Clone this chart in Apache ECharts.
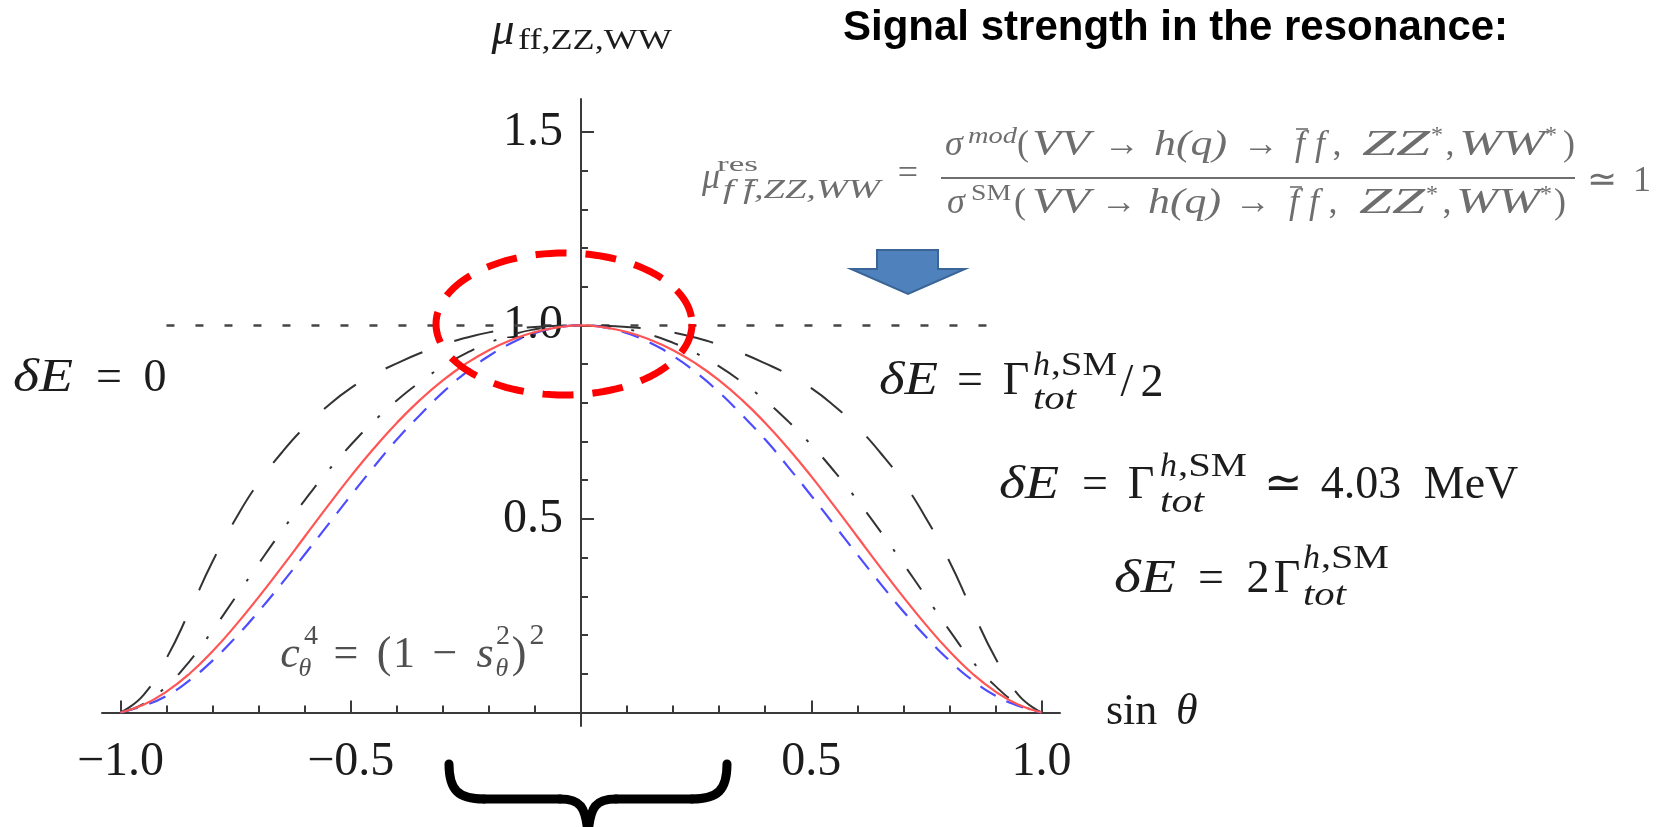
<!DOCTYPE html>
<html>
<head>
<meta charset="utf-8">
<script src="https://cdn.jsdelivr.net/npm/echarts@6/dist/echarts.min.js"></script>
<style>
  html, body { margin: 0; padding: 0; background: #ffffff; }
  #chart { width: 1656px; height: 827px; }
</style>
</head>
<body>
<div id="chart"></div>
<script>
// sin(theta) sample points
const sinTheta = [
  -1.00, -0.95, -0.90, -0.85, -0.80, -0.75, -0.70, -0.65, -0.60, -0.55,
  -0.50, -0.45, -0.40, -0.35, -0.30, -0.25, -0.20, -0.15, -0.10, -0.05,
   0.00,
   0.05,  0.10,  0.15,  0.20,  0.25,  0.30,  0.35,  0.40,  0.45,  0.50,
   0.55,  0.60,  0.65,  0.70,  0.75,  0.80,  0.85,  0.90,  0.95,  1.00
];
// red solid: c^4 = (1 - s^2)^2
const muCos4 = [
  0.000, 0.020, 0.054, 0.100, 0.158, 0.225, 0.298, 0.375, 0.454, 0.533,
  0.610, 0.682, 0.748, 0.807, 0.858, 0.901, 0.936, 0.963, 0.983, 0.995,
  1.000,
  0.995, 0.983, 0.963, 0.936, 0.901, 0.858, 0.807, 0.748, 0.682, 0.610,
  0.533, 0.454, 0.375, 0.298, 0.225, 0.158, 0.100, 0.054, 0.020, 0.000
];
// blue dashed
const muBlue = [
  0.000, 0.017, 0.043, 0.083, 0.134, 0.194, 0.261, 0.333, 0.408, 0.484,
  0.560, 0.634, 0.705, 0.768, 0.827, 0.878, 0.921, 0.955, 0.980, 0.995,
  1.000,
  0.995, 0.980, 0.955, 0.921, 0.878, 0.827, 0.768, 0.705, 0.634, 0.560,
  0.484, 0.408, 0.333, 0.261, 0.194, 0.134, 0.083, 0.043, 0.017, 0.000
];
// black dash-dot
const muDashDot = [
  0.000, 0.022, 0.068, 0.132, 0.212, 0.298, 0.384, 0.468, 0.548, 0.623,
  0.691, 0.752, 0.806, 0.853, 0.894, 0.928, 0.955, 0.976, 0.990, 0.998,
  1.000,
  0.998, 0.990, 0.976, 0.955, 0.928, 0.894, 0.853, 0.806, 0.752, 0.691,
  0.623, 0.548, 0.468, 0.384, 0.298, 0.212, 0.132, 0.068, 0.022, 0.000
];
// black long dash
const muLongDash = [
  0.000, 0.045, 0.140, 0.262, 0.390, 0.500, 0.594, 0.671, 0.737, 0.792,
  0.838, 0.873, 0.902, 0.928, 0.950, 0.968, 0.982, 0.991, 0.996, 0.999,
  1.000,
  0.999, 0.996, 0.991, 0.982, 0.968, 0.950, 0.928, 0.902, 0.873, 0.838,
  0.792, 0.737, 0.671, 0.594, 0.500, 0.390, 0.262, 0.140, 0.045, 0.000
];
// dotted reference level mu = 1
const refLevel = 1;
const refSpan = [-0.9, 0.89];

// ticks and labels
const xTickMinor = [-0.9, -0.8, -0.7, -0.6, -0.4, -0.3, -0.2, -0.1, 0.1, 0.2, 0.3, 0.4, 0.6, 0.7, 0.8, 0.9];
const xTickMajor = [-1, -0.5, 0.5, 1];
const xTickLabels = [-1, -0.5, 0.5, 1];
const yTickMinor = [0.1, 0.2, 0.3, 0.4, 0.6, 0.7, 0.8, 0.9, 1.1, 1.2, 1.3, 1.4];
const yTickMajor = [0.5, 1, 1.5];
const yTickLabels = [0.5, 1, 1.5];

const SERIF = "'Liberation Serif', 'Times New Roman', serif";
const SANS = "'Liberation Sans', Arial, sans-serif";
const AXIS = '#3a3a3a';
const INK = '#1c1c1c';
const FORMULA = '#6e6e6e';
const NOTE = '#505050';

const meter = document.createElement('canvas').getContext('2d');

// one piece of typeset text; x is the centre (or the left edge when left/w is set), y the middle
function tok(text, x, y, size, o) {
  o = o || {};
  const style = {
    text: text,
    fill: o.color || INK,
    fontSize: size,
    fontFamily: o.family || SERIF,
    fontStyle: o.it ? 'italic' : 'normal',
    fontWeight: o.bold ? 'bold' : 'normal',
    textAlign: (o.left || o.w) ? 'left' : 'center',
    textVerticalAlign: 'middle'
  };
  const el = { type: 'text', x: x, y: y, z: o.z || 60, silent: true, style: style };
  if (o.w) {
    meter.font = style.fontStyle + ' ' + style.fontWeight + ' ' + size + 'px ' + style.fontFamily;
    el.scaleX = o.w / meter.measureText(text).width;
  }
  return el;
}

const texts = [];
function add(list, color) {
  list.forEach(function (t) {
    const o = Object.assign({ color: color }, t[4] || {});
    texts.push(tok(t[0], t[1], t[2], t[3], o));
  });
}

// y axis title  mu_{ff,ZZ,WW}
add([
  ['μ', 503, 32, 46, { it: true }],
  ['ff,ZZ,WW', 518, 41, 30, { w: 154 }]
], INK);

// δE = 0
add([
  ['δE', 13, 379, 46, { it: true, w: 60 }],
  ['=', 109, 379, 46],
  ['0', 155, 379, 46]
], INK);

// δE = Γ_tot^{h,SM} / 2
add([
  ['δE', 879, 382, 46, { it: true, w: 59 }],
  ['=', 970, 382, 46],
  ['Γ', 1016, 382, 46],
  ['h', 1033, 366, 34, { it: true, left: true }],
  [',SM', 1051, 366, 34, { w: 66 }],
  ['tot', 1033, 400, 34, { it: true, w: 43 }],
  ['/', 1127, 384, 46],
  ['2', 1152, 384, 46]
], INK);

// δE = Γ_tot^{h,SM} ≃ 4.03 MeV
add([
  ['δE', 999, 486, 46, { it: true, w: 60 }],
  ['=', 1095, 486, 46],
  ['Γ', 1141, 486, 46],
  ['h', 1160, 467, 34, { it: true, left: true }],
  [',SM', 1178, 467, 34, { w: 69 }],
  ['tot', 1160, 503, 34, { it: true, w: 44 }],
  ['≃', 1283, 486, 46],
  ['4.03', 1361, 486, 46],
  ['MeV', 1471, 486, 46]
], INK);

// δE = 2 Γ_tot^{h,SM}
add([
  ['δE', 1114, 580, 46, { it: true, w: 62 }],
  ['=', 1211, 580, 46],
  ['2', 1258, 580, 46],
  ['Γ', 1287, 580, 46],
  ['h', 1303, 559, 34, { it: true, left: true }],
  [',SM', 1321, 559, 34, { w: 68 }],
  ['tot', 1303, 596, 34, { it: true, w: 43 }]
], INK);

// c_θ^4 = (1 − s_θ^2)^2
add([
  ['c', 290, 655, 44, { it: true }],
  ['4', 311, 637, 28],
  ['θ', 305, 669, 26, { it: true }],
  ['=', 346, 655, 44],
  ['(', 384, 655, 44],
  ['1', 404, 655, 44],
  ['−', 445, 655, 44],
  ['s', 485, 655, 44, { it: true }],
  ['2', 503, 637, 28],
  ['θ', 502, 669, 26, { it: true }],
  [')', 519, 655, 44],
  ['2', 537, 636, 30]
], NOTE);

// μ^res = σ^mod(...) / σ^SM(...) ≃ 1
add([
  ['μ', 711, 179, 36, { it: true }],
  ['res', 717, 165, 22, { w: 41 }],
  ['f f,ZZ,WW', 723, 191, 28, { it: true, w: 157 }],
  ['=', 908, 175, 36],
  // numerator
  ['σ', 954, 146, 36, { it: true }],
  ['mod', 968, 137, 24, { it: true, w: 49 }],
  ['(', 1023, 146, 36],
  ['VV', 1032, 146, 36, { it: true, w: 58 }],
  ['→', 1122, 146, 36],
  ['h(q)', 1154, 146, 36, { it: true, w: 73 }],
  ['→', 1261, 146, 36],
  ['f', 1300, 146, 36, { it: true }],
  ['f', 1320, 146, 36, { it: true }],
  [',', 1337, 146, 36],
  ['ZZ', 1362, 146, 36, { it: true, w: 68 }],
  ['*', 1437, 136, 24],
  [',', 1450, 146, 36],
  ['WW', 1459, 146, 36, { it: true, w: 86 }],
  ['*', 1551, 136, 24],
  [')', 1569, 146, 36],
  // denominator
  ['σ', 956, 204, 36, { it: true }],
  ['SM', 971, 194, 24, { w: 40 }],
  ['(', 1020, 204, 36],
  ['VV', 1032, 204, 36, { it: true, w: 58 }],
  ['→', 1119, 204, 36],
  ['h(q)', 1148, 204, 36, { it: true, w: 73 }],
  ['→', 1253, 204, 36],
  ['f', 1294, 204, 36, { it: true }],
  ['f', 1314, 204, 36, { it: true }],
  [',', 1333, 204, 36],
  ['ZZ', 1359, 204, 36, { it: true, w: 66 }],
  ['*', 1432, 195, 24],
  [',', 1447, 204, 36],
  ['WW', 1456, 204, 36, { it: true, w: 84 }],
  ['*', 1546, 195, 24],
  [')', 1560, 204, 36],
  ['≃', 1602, 182, 36],
  ['1', 1642, 182, 36]
], FORMULA);

// closed outline of the dashed ring round the peak
const ringPts = [];
for (let k = 0; k <= 120; k++) {
  const a = Math.PI * 2 * k / 120;
  ringPts.push([564 + 128 * Math.cos(a), 324 + 71 * Math.sin(a)]);
}

function bar(x1, x2, y) {
  return { type: 'line', z: 60, silent: true, shape: { x1: x1, y1: y, x2: x2, y2: y },
    style: { stroke: FORMULA, lineWidth: 1.6 } };
}

const braceStyle = { stroke: '#000000', lineWidth: 9, lineCap: 'round', fill: 'none' };
const shapes = [
  // fraction bar
  { type: 'line', z: 60, silent: true, shape: { x1: 941, y1: 178, x2: 1575, y2: 178 },
    style: { stroke: FORMULA, lineWidth: 2 } },
  // bars over the antifermion f
  bar(745, 755, 180),
  bar(1296, 1308, 129),
  bar(1290, 1302, 187),
  // blue block arrow
  { type: 'polygon', z: 80, silent: true,
    shape: { points: [[877, 250], [938, 250], [938, 269], [965, 269], [908, 294], [851, 269], [877, 269]] },
    style: { fill: '#4f81bd', stroke: '#3a6596', lineWidth: 2 } },
  // red dashed ring
  { type: 'polyline', z: 100, silent: true, shape: { points: ringPts },
    style: { fill: 'none', stroke: '#ff0000', lineWidth: 7, lineDash: [31, 19] } },
  // curly brace under the axis
  { type: 'bezierCurve', z: 60, silent: true,
    shape: { x1: 449, y1: 764, cpx1: 449, cpy1: 790, cpx2: 458, cpy2: 799, x2: 484, y2: 799 }, style: braceStyle },
  { type: 'line', z: 60, silent: true, shape: { x1: 484, y1: 799, x2: 560, y2: 799 }, style: braceStyle },
  { type: 'bezierCurve', z: 60, silent: true,
    shape: { x1: 560, y1: 799, cpx1: 580, cpy1: 799, cpx2: 586, cpy2: 806, x2: 588, y2: 835 }, style: braceStyle },
  { type: 'bezierCurve', z: 60, silent: true,
    shape: { x1: 588, y1: 835, cpx1: 590, cpy1: 806, cpx2: 596, cpy2: 799, x2: 616, y2: 799 }, style: braceStyle },
  { type: 'line', z: 60, silent: true, shape: { x1: 616, y1: 799, x2: 692, y2: 799 }, style: braceStyle },
  { type: 'bezierCurve', z: 60, silent: true,
    shape: { x1: 692, y1: 799, cpx1: 718, cpy1: 799, cpx2: 727, cpy2: 790, x2: 727, y2: 764 }, style: braceStyle }
];

function curve(name, ys, color, width, dash, z) {
  return {
    type: 'line', name: name, z: z, silent: true, animation: false,
    xAxisIndex: 0, yAxisIndex: 0,
    data: sinTheta.map(function (x, i) { return [x, ys[i]]; }),
    showSymbol: false, symbol: 'none', smooth: 0.5,
    lineStyle: { color: color, width: width, type: dash, cap: 'butt' }
  };
}

const xMin = -1.04, xMax = 1.04, yMin = -0.035, yMax = 1.585;
const gridLeft = 102, gridTop = 99, gridWidth = 958, gridHeight = 627;

const option = {
  animation: false,
  backgroundColor: '#ffffff',
  title: {
    text: 'Signal strength in the resonance:',
    left: 843, top: 7, padding: 0,
    textStyle: { fontFamily: SANS, fontSize: 42, fontWeight: 'bold', color: '#000000', lineHeight: 42 }
  },
  grid: { left: gridLeft, top: gridTop, width: gridWidth, height: gridHeight, containLabel: false, outerBoundsMode: 'none' },
  xAxis: [
    {
      type: 'value', min: xMin, max: xMax, position: 'bottom',
      axisLine: { onZero: true, onZeroAxisIndex: 0, lineStyle: { color: AXIS, width: 2 } },
      axisTick: { inside: true, length: 7, customValues: xTickMinor, lineStyle: { color: AXIS, width: 2 } },
      axisLabel: {
        customValues: xTickLabels, margin: 12, fontSize: 48, fontFamily: SERIF, color: INK,
        formatter: function (v) { return (v < 0 ? '−' : '') + Math.abs(v).toFixed(1); }
      },
      splitLine: { show: false },
      name: '{a|sin}{b|θ}', nameLocation: 'end', nameGap: 46, nameMoveOverlap: false,
      nameTextStyle: {
        rich: {
          a: { fontFamily: SERIF, fontSize: 44, color: INK, width: 70 },
          b: { fontFamily: SERIF, fontSize: 44, fontStyle: 'italic', color: INK }
        }
      }
    },
    {
      type: 'value', min: xMin, max: xMax, position: 'bottom',
      axisLine: { show: false, onZero: true, onZeroAxisIndex: 0 },
      axisTick: { inside: true, length: 12, customValues: xTickMajor, lineStyle: { color: AXIS, width: 2 } },
      axisLabel: { show: false },
      splitLine: { show: false }
    }
  ],
  yAxis: [
    {
      type: 'value', min: yMin, max: yMax, position: 'left',
      axisLine: { onZero: true, onZeroAxisIndex: 0, lineStyle: { color: AXIS, width: 2 } },
      axisTick: { inside: true, length: 7, customValues: yTickMinor, lineStyle: { color: AXIS, width: 2 } },
      axisLabel: {
        // labels sit just left of the vertical axis at sin θ = 0
        customValues: yTickLabels, margin: gridLeft - 563, fontSize: 48, fontFamily: SERIF, color: INK,
        formatter: function (v) { return v.toFixed(1); }
      },
      splitLine: { show: false }
    },
    {
      type: 'value', min: yMin, max: yMax, position: 'left',
      axisLine: { show: false, onZero: true, onZeroAxisIndex: 0 },
      axisTick: { inside: true, length: 13, customValues: yTickMajor, lineStyle: { color: AXIS, width: 2 } },
      axisLabel: { show: false },
      splitLine: { show: false }
    }
  ],
  series: [
    {
      type: 'line', name: 'reference', z: 2, silent: true, animation: false,
      xAxisIndex: 0, yAxisIndex: 0, showSymbol: false, symbol: 'none',
      data: [[refSpan[0], refLevel], [refSpan[1], refLevel]],
      lineStyle: { color: '#454545', width: 2.5, type: [8, 21], cap: 'butt' }
    },
    curve('long dash', muLongDash, '#333333', 2, [40, 34], 3),
    curve('dash dot', muDashDot, '#333333', 2, [25, 21, 3, 21], 4),
    curve('blue dashed', muBlue, '#4d4dff', 2.2, [18, 12], 5),
    curve('cos4', muCos4, '#ff5555', 2.2, 'solid', 6)
  ],
  graphic: { elements: texts.concat(shapes) }
};

const chart = echarts.init(document.getElementById('chart'), null, { renderer: 'canvas' });
chart.setOption(option);
</script>
</body>
</html>
